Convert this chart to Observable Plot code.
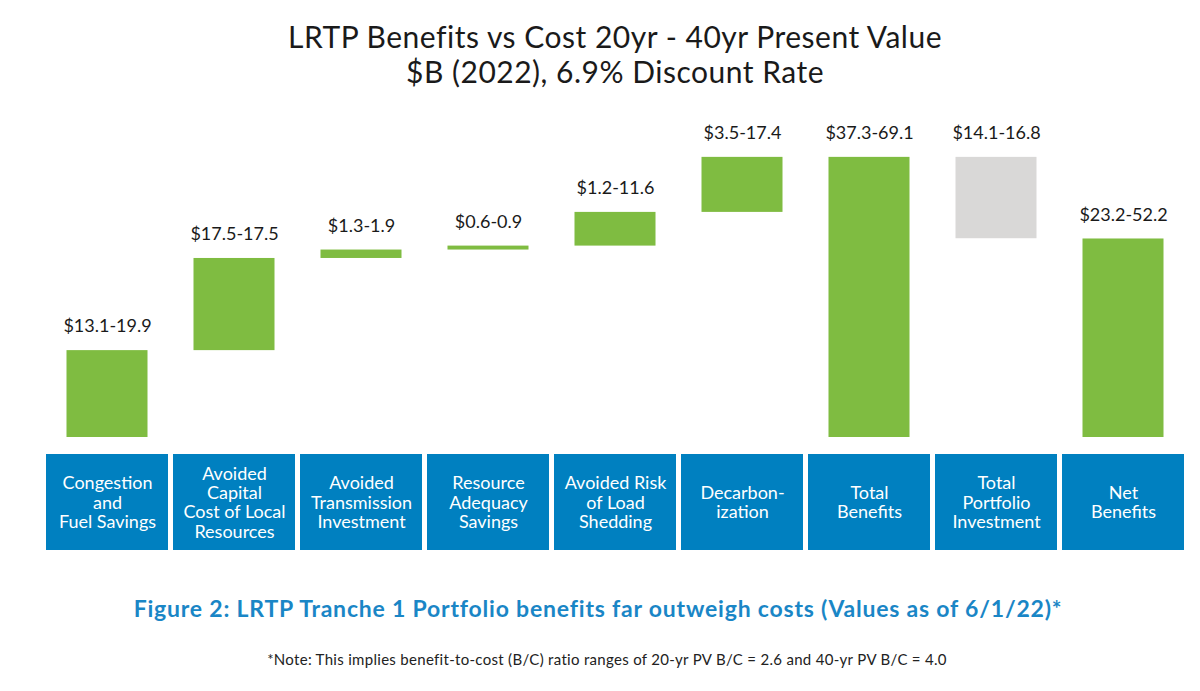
<!DOCTYPE html>
<html><head><meta charset="utf-8">
<script src="https://cdn.jsdelivr.net/npm/d3@7"></script>
<script src="https://cdn.jsdelivr.net/npm/@observablehq/plot@0.6"></script>
<style>
body{margin:0;background:#fff;font-family:Lato,sans-serif;}
#wrap{position:relative;width:1200px;height:691px;overflow:hidden;background:#fff;}
.abs{position:absolute;left:0;}
#title{top:19px;width:1230px;text-align:center;font-size:30px;letter-spacing:0.5px;line-height:35px;color:#1a1a1a;}
#bars{top:100px;}
#boxes{top:454px;}
#caption{top:594px;width:1196px;text-align:center;font-size:23px;letter-spacing:0.8px;line-height:28px;font-weight:bold;color:#1a86c6;}
#note{top:649px;width:1214px;text-align:center;font-size:15px;letter-spacing:0.3px;line-height:20px;color:#222;}
svg{display:block;}
</style></head>
<body><div id="wrap">
<div id="title" class="abs">LRTP Benefits vs Cost 20yr - 40yr Present Value<br>$B (2022), 6.9% Discount Rate</div>
<div id="bars" class="abs"></div>
<div id="boxes" class="abs"></div>
<div id="caption" class="abs">Figure 2: LRTP Tranche 1 Portfolio benefits far outweigh costs (Values as of 6/1/22)*</div>
<div id="note" class="abs">*Note: This implies benefit-to-cost (B/C) ratio ranges of 20-yr PV B/C = 2.6 and 40-yr PV B/C = 4.0</div>
</div>
<script>
const categories = [
  "Congestion\nand\nFuel Savings",
  "Avoided\nCapital\nCost of Local\nResources",
  "Avoided\nTransmission\nInvestment",
  "Resource\nAdequacy\nSavings",
  "Avoided Risk\nof Load\nShedding",
  "Decarbon-\nization",
  "Total\nBenefits",
  "Total\nPortfolio\nInvestment",
  "Net\nBenefits"
];
const barValues = [16.5, 17.5, 1.6, 0.75, 6.4, 10.45, 53.2, 15.45, 37.7];
const barKinds = ["step", "step", "step", "step", "step", "step", "total", "cost", "total"];
const rangeLabels = ["$13.1-19.9", "$17.5-17.5", "$1.3-1.9", "$0.6-0.9", "$1.2-11.6", "$3.5-17.4", "$37.3-69.1", "$14.1-16.8", "$23.2-52.2"];

const GREEN = "#7fbc41", GREY = "#d9d8d7", BLUE = "#0080c0";

let run = 0;
const rows = categories.map((cat, i) => {
  const v = barValues[i], k = barKinds[i];
  let y1, y2;
  if (k === "step") { y1 = run; y2 = run + v; run = y2; }
  else if (k === "total") { y1 = 0; y2 = v; run = v; }
  else { y1 = run; y2 = run - v; run = y2; }
  return {cat, y1, y2, top: Math.max(y1, y2), label: rangeLabels[i], fill: k === "cost" ? GREY : GREEN};
});

const xOpts = {domain: categories, paddingInner: 0.04, paddingOuter: 0, axis: null};

const bars = Plot.plot({
  width: 1200, height: 340,
  marginTop: 0, marginBottom: 3, marginLeft: 45, marginRight: 16,
  style: {fontFamily: "Lato", background: "transparent", overflow: "visible"},
  x: xOpts,
  y: {domain: [0, 64], axis: null},
  color: {type: "identity"},
  marks: [
    Plot.barY(rows, {x: "cat", y1: "y1", y2: "y2", fill: "fill", insetLeft: 20.5, insetRight: 20.5}),
    Plot.text(rows, {x: "cat", y: "top", text: "label", dy: -24, fontSize: 18, fill: "#1a1a1a"})
  ]
});
document.getElementById("bars").appendChild(bars);

const boxes = Plot.plot({
  width: 1200, height: 96,
  marginTop: 0, marginBottom: 0, marginLeft: 45, marginRight: 16,
  style: {fontFamily: "Lato", background: "transparent"},
  x: xOpts,
  marks: [
    Plot.cell(categories, {x: d => d, fill: BLUE}),
    Plot.text(categories, {x: d => d, frameAnchor: "middle", text: d => d, fill: "white", fontSize: 18, lineHeight: 1.08})
  ]
});
document.getElementById("boxes").appendChild(boxes);
</script>
</body></html>
